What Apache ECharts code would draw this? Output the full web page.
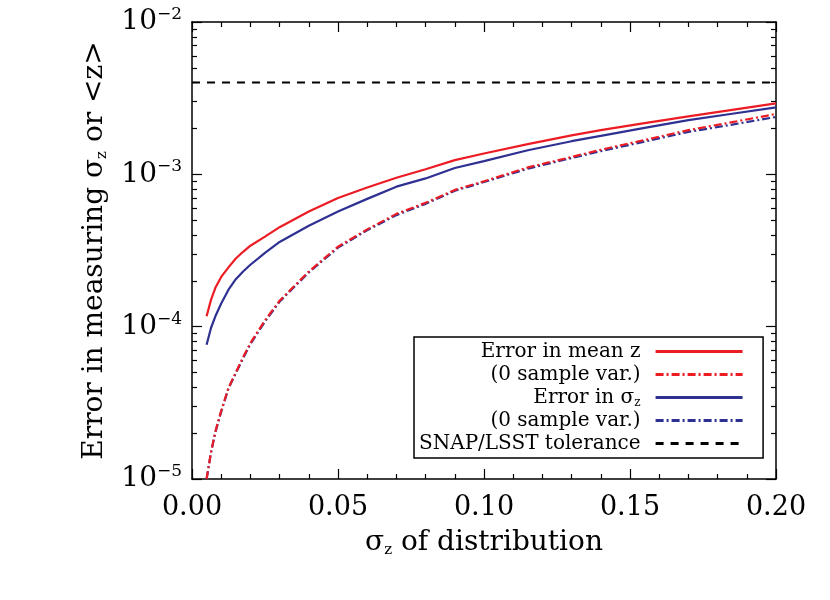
<!DOCTYPE html>
<html><head><meta charset="utf-8">
<script src="https://cdn.jsdelivr.net/npm/echarts@6/dist/echarts.min.js"></script>
<style>html,body{margin:0;padding:0;background:#fff}#c{width:830px;height:600px}</style>
</head><body><div id="c"></div>
<script>
// sigma_z of distribution
const xs = [0.005, 0.0065, 0.008, 0.01, 0.0125, 0.015, 0.0175, 0.02, 0.025, 0.03, 0.04, 0.05, 0.06, 0.07, 0.08, 0.09, 0.10, 0.115, 0.13, 0.14, 0.155, 0.17, 0.185, 0.20];
// Error in mean z
const meanErr = [1.17e-4, 1.5e-4, 1.8e-4, 2.12e-4, 2.45e-4, 2.8e-4, 3.1e-4, 3.4e-4, 3.9e-4, 4.5e-4, 5.7e-4, 7.0e-4, 8.2e-4, 9.5e-4, 1.08e-3, 1.24e-3, 1.37e-3, 1.58e-3, 1.8e-3, 1.95e-3, 2.17e-3, 2.4e-3, 2.65e-3, 2.92e-3];
// Error in mean z, zero sample variance
const meanErrZero = [1.0e-5, 1.5e-5, 2.05e-5, 2.8e-5, 3.97e-5, 5.0e-5, 6.3e-5, 7.8e-5, 1.1e-4, 1.48e-4, 2.3e-4, 3.35e-4, 4.35e-4, 5.5e-4, 6.5e-4, 7.9e-4, 9.0e-4, 1.11e-3, 1.3e-3, 1.45e-3, 1.68e-3, 1.95e-3, 2.2e-3, 2.49e-3];
// Error in sigma_z
const sigmaErr = [7.6e-5, 9.8e-5, 1.17e-4, 1.42e-4, 1.75e-4, 2.05e-4, 2.3e-4, 2.55e-4, 3.05e-4, 3.6e-4, 4.6e-4, 5.7e-4, 6.9e-4, 8.3e-4, 9.4e-4, 1.1e-3, 1.22e-3, 1.44e-3, 1.65e-3, 1.79e-3, 2.02e-3, 2.27e-3, 2.5e-3, 2.75e-3];
// Error in sigma_z, zero sample variance
const sigmaErrZero = [1.0e-5, 1.49e-5, 2.03e-5, 2.77e-5, 3.93e-5, 4.95e-5, 6.2e-5, 7.7e-5, 1.08e-4, 1.46e-4, 2.27e-4, 3.3e-4, 4.3e-4, 5.4e-4, 6.4e-4, 7.8e-4, 8.9e-4, 1.09e-3, 1.28e-3, 1.42e-3, 1.64e-3, 1.9e-3, 2.12e-3, 2.38e-3];
// SNAP/LSST tolerance
const tolX = [0, 0.2];
const tolY = [4.0e-3, 4.0e-3];
// ticks
const xTickLabels = ['0.00', '0.05', '0.10', '0.15', '0.20'];
const yMajor = [1e-5, 1e-4, 1e-3, 1e-2];
const yMinorMult = [2, 3, 4, 5, 6, 7, 8, 9];

const yMinor = [];
yMajor.slice(0, 3).forEach(d => yMinorMult.forEach(m => yMinor.push(+(d * m).toPrecision(3))));

const FONT = 'DejaVu Serif';
const RED = '#ec1c24';
const BLUE = '#2e3192';
const zip = (a, b) => a.map((v, i) => [v, b[i]]);

const chart = echarts.init(document.getElementById('c'), null, {renderer: 'canvas'});

function xAxisDef(pos, labels) {
  return {
    type: 'value', position: pos, min: 0, max: 0.2, interval: 0.05,
    axisLine: {show: true, onZero: false, lineStyle: {color: '#000', width: 1.5}},
    axisTick: {show: true, inside: true, length: 10, lineStyle: {color: '#000', width: 1.2}},
    minorTick: {show: true, splitNumber: 5, length: 5, lineStyle: {color: '#000', width: 1.2}},
    splitLine: {show: false},
    axisLabel: labels ? {show: true, margin: 15, fontFamily: FONT, fontSize: 27, color: '#000',
      formatter: v => xTickLabels[Math.round(v / 0.05)]} : {show: false},
    name: labels ? '{t|σ}{s|z}{t| of distribution}' : '',
    nameLocation: 'middle', nameGap: 49,
    nameTextStyle: {rich: {
      t: {fontFamily: FONT, fontSize: 28, color: '#000'},
      s: {fontFamily: FONT, fontSize: 15, color: '#000', padding: [15, 0, 0, 0]}
    }}
  };
}
function yAxisDef(pos, labels, minor) {
  return {
    type: 'log', logBase: 10, position: pos, min: 1e-5, max: 1e-2,
    axisLine: {show: !minor, onZero: false, lineStyle: {color: '#000', width: 1.5}},
    axisTick: {show: true, inside: true, length: minor ? 5 : 10,
      customValues: minor ? yMinor : yMajor, lineStyle: {color: '#000', width: 1.2}},
    splitLine: {show: false},
    axisLabel: labels ? {show: true, margin: 10, customValues: yMajor,
      formatter: v => '{b|10}{p|−' + Math.round(-Math.log10(v)) + '}',
      rich: {
        b: {fontFamily: FONT, fontSize: 28, color: '#000'},
        p: {fontFamily: FONT, fontSize: 17, color: '#000', padding: [0, 0, 15, 0]}
      }} : {show: false},
    name: labels ? '{t|Error in measuring σ}{s|z}{t| or <z>}' : '',
    nameLocation: 'middle', nameGap: 82, nameRotate: 90,
    nameTextStyle: {rich: {
      t: {fontFamily: FONT, fontSize: 28, color: '#000'},
      s: {fontFamily: FONT, fontSize: 15, color: '#000', padding: [15, 0, 0, 0]}
    }}
  };
}

const displayNames = {
  mean: 'Error in mean z',
  meanZero: '(0 sample var.)',
  sigma: 'Error in σ{z|z}',
  sigmaZero: '(0 sample var.)',
  tol: 'SNAP/LSST tolerance'
};

const option = {
  animation: false,
  backgroundColor: '#fff',
  grid: {left: 192, right: 54, top: 22, bottom: 121},
  xAxis: [xAxisDef('bottom', true), xAxisDef('top', false)],
  yAxis: [yAxisDef('left', true, false), yAxisDef('right', false, false),
          yAxisDef('left', false, true), yAxisDef('right', false, true)],
  legend: {
    orient: 'vertical', left: 414, top: 337, align: 'right',
    data: ['mean', 'meanZero', 'sigma', 'sigmaZero', 'tol'],
    itemWidth: 87, itemHeight: 14, itemGap: 0,
    padding: [3, 19, 3, 5],
    borderColor: '#000', borderWidth: 1.5, backgroundColor: '#fff',
    selectedMode: false,
    itemStyle: {opacity: 0},
    lineStyle: {width: 3},
    formatter: n => displayNames[n],
    textStyle: {fontFamily: FONT, fontSize: 20, color: '#000', width: 221, lineHeight: 23,
      padding: [0, 10, 0, 0],
      rich: {
        z: {fontFamily: FONT, fontSize: 12, color: '#000', lineHeight: 13, padding: [10, 0, 0, 0]}
      }}
  },
  series: [
    {name: 'tol', type: 'line', data: zip(tolX, tolY), symbol: 'none',
     lineStyle: {color: '#000', width: 2, type: [8, 7]}, itemStyle: {color: '#000'}},
    {name: 'sigmaZero', type: 'line', data: zip(xs, sigmaErrZero), symbol: 'none',
     lineStyle: {color: BLUE, width: 2.2, type: [8, 3, 2, 3]}, itemStyle: {color: BLUE}},
    {name: 'meanZero', type: 'line', data: zip(xs, meanErrZero), symbol: 'none',
     lineStyle: {color: RED, width: 2.2, type: [8, 3, 2, 3]}, itemStyle: {color: RED}},
    {name: 'sigma', type: 'line', data: zip(xs, sigmaErr), symbol: 'none',
     lineStyle: {color: BLUE, width: 2.2}, itemStyle: {color: BLUE}},
    {name: 'mean', type: 'line', data: zip(xs, meanErr), symbol: 'none',
     lineStyle: {color: RED, width: 2.2}, itemStyle: {color: RED}}
  ]
};
chart.setOption(option);
</script></body></html>
